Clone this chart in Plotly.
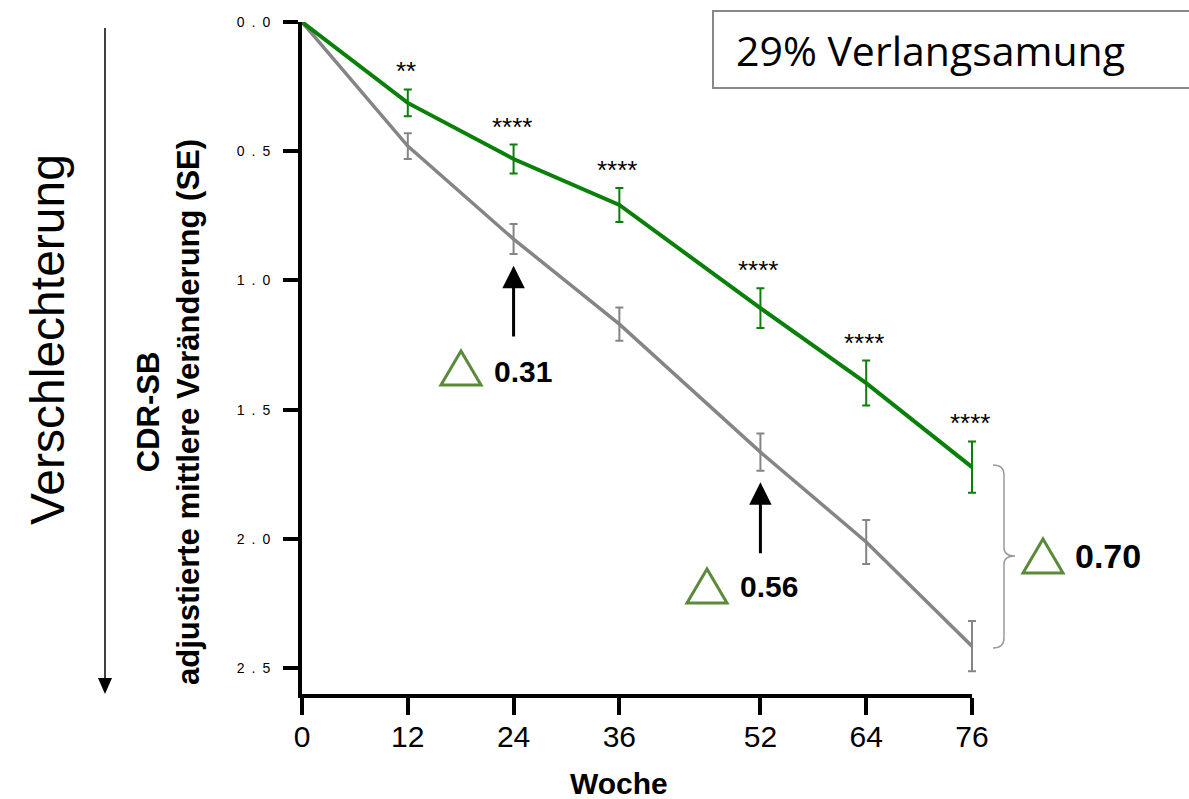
import plotly.graph_objects as go

# ---- data ----
weeks = [0, 12, 24, 36, 52, 64, 76]
treat_mean = [0.0, 0.313, 0.530, 0.708, 1.107, 1.397, 1.722]
treat_se = [0.0, 0.052, 0.056, 0.066, 0.077, 0.087, 0.099]
placebo_mean = [0.0, 0.480, 0.840, 1.169, 1.664, 2.012, 2.415]
placebo_se = [0.0, 0.050, 0.058, 0.064, 0.072, 0.085, 0.097]
stars = ["", "**", "****", "****", "****", "****", "****"]
y_tickvals = [0.0, 0.5, 1.0, 1.5, 2.0, 2.5]
y_ticktext = ["0\u2002.\u20020", "0\u2002.\u20025", "1\u2002.\u20020",
              "1\u2002.\u20025", "2\u2002.\u20020", "2\u2002.\u20025"]
diff_weeks = [24, 52]
diff_labels = ["0.31", "0.56"]
total_diff_label = "0.70"
box_text = "29% Verlangsamung"

GREEN = "#0a7f0a"
GRAY = "#858585"
TRI = "#5a8a3a"

W, H = 1189, 799
L, R, T, B = 302, 217, 22, 105
R2 = 180                      # wider drawing area so end caps are not clipped
PW, PH = W - L - R, H - T - B
PW2 = W - L - R2
XMAX = 76
XMAX2 = XMAX * PW2 / PW


def px(x):
    return (x - L) / PW2


def py(y):
    return (H - B - y) / PH


fig = go.Figure()

for mean, se, col, lw in [(placebo_mean, placebo_se, GRAY, 3.5),
                          (treat_mean, treat_se, GREEN, 4)]:
    fig.add_trace(go.Scatter(x=weeks, y=mean, mode="lines", xaxis="x2", yaxis="y",
                             line=dict(color=col, width=lw),
                             cliponaxis=False, hoverinfo="skip"))
    fig.add_trace(go.Scatter(x=weeks[1:], y=mean[1:], mode="markers", xaxis="x2", yaxis="y",
                             marker=dict(size=1, color=col, opacity=0),
                             error_y=dict(type="data", array=se[1:], color=col,
                                          thickness=2, width=4, visible=True),
                             cliponaxis=False, hoverinfo="skip"))

annotations = []
# significance stars
for w, m, s, st in zip(weeks, treat_mean, treat_se, stars):
    if st:
        annotations.append(dict(x=w, y=m - s, xref="x", yref="y", text=st,
                                showarrow=False, yshift=18, xshift=-2,
                                xanchor="center", yanchor="middle",
                                font=dict(family="Liberation Sans, Arial", size=26, color="black")))

# arrows at week 24 and 52
for w in diff_weeks:
    i = weeks.index(w)
    tip = placebo_mean[i] + placebo_se[i] + 0.045
    tail = tip + 0.28
    annotations.append(dict(x=w, y=tip, ax=w, ay=tail, xref="x", yref="y",
                            axref="x", ayref="y", text="", showarrow=True,
                            arrowhead=2, arrowsize=1.5, arrowwidth=3, arrowcolor="black"))

# difference labels
label_pos = [(492, 371, 30), (738, 586, 30), (1073, 556, 34)]
for (lx, ly, fs), txt in zip(label_pos, diff_labels + [total_diff_label]):
    annotations.append(dict(x=px(lx), y=py(ly), xref="paper", yref="paper",
                            text="<b>%s</b>" % txt, showarrow=False,
                            xanchor="left", yanchor="middle",
                            font=dict(family="Liberation Sans, Arial", size=fs, color="black")))

# axis titles
annotations.append(dict(x=px(619), y=py(783), xref="paper", yref="paper",
                        text="<b>Woche</b>", showarrow=False,
                        xanchor="center", yanchor="middle",
                        font=dict(family="Liberation Sans, Arial", size=30, color="black")))
annotations.append(dict(x=px(47), y=py(340), xref="paper", yref="paper",
                        text="Verschlechterung", textangle=-90, showarrow=False,
                        xanchor="center", yanchor="middle",
                        font=dict(family="Liberation Sans, Arial", size=48, color="black")))
annotations.append(dict(x=px(169), y=py(412), xref="paper", yref="paper",
                        text="<b>CDR-SB</b><br><b>adjustierte mittlere Veränderung (SE)</b>",
                        textangle=-90, showarrow=False,
                        xanchor="center", yanchor="middle",
                        font=dict(family="Liberation Sans, Arial", size=31, color="black")))
# box text
annotations.append(dict(x=px(734), y=py(50), xref="paper", yref="paper",
                        text=box_text, showarrow=False, xanchor="left", yanchor="middle",
                        font=dict(family="Open Sans", size=41, color="black")))

shapes = []
# direction arrow on the left
shapes.append(dict(type="line", xref="paper", yref="paper",
                   x0=px(105), x1=px(105), y0=py(28), y1=py(680),
                   line=dict(color="black", width=1.5)))
shapes.append(dict(type="path", xref="paper", yref="paper",
                   path="M %f,%f L %f,%f L %f,%f Z" % (px(98), py(678), px(112), py(678), px(105), py(694)),
                   fillcolor="black", line=dict(color="black", width=0)))

# triangles
for (x0, y0) in [(441, 385), (687, 603), (1023, 573)]:
    shapes.append(dict(type="path", xref="paper", yref="paper",
                       path="M %f,%f L %f,%f L %f,%f Z" % (px(x0), py(y0), px(x0 + 40), py(y0),
                                                          px(x0 + 20), py(y0 - 34)),
                       line=dict(color=TRI, width=3)))

# bracket
pts = ("M {a},{b} Q {c},{b} {c},{d} L {c},{e} Q {c},{f} {g},{f} Q {c},{f} {c},{h} "
       "L {c},{i} Q {c},{j} {a},{j}").format(
    a=px(993), b=py(465), c=px(1004), d=py(475), e=py(548), f=py(556), g=px(1015),
    h=py(564), i=py(638), j=py(648))
shapes.append(dict(type="path", xref="paper", yref="paper", path=pts,
                   line=dict(color="#9a9a9a", width=1.5)))

# text box
shapes.append(dict(type="rect", xref="paper", yref="paper",
                   x0=px(713), x1=px(1195), y0=py(88), y1=py(11),
                   line=dict(color="#888888", width=2), fillcolor="rgba(0,0,0,0)"))

fig.update_layout(
    width=W, height=H,
    margin=dict(l=L, r=R2, t=T, b=B, autoexpand=False),
    paper_bgcolor="white", plot_bgcolor="white",
    showlegend=False,
    annotations=annotations, shapes=shapes,
    xaxis=dict(domain=[0, PW / PW2], range=[0, XMAX], tickvals=weeks,
               ticktext=[str(w) for w in weeks], anchor="y",
               showgrid=False, zeroline=False, showline=True, linecolor="black", linewidth=4,
               ticks="outside", ticklen=17, tickwidth=4, tickcolor="black",
               ticklabelstandoff=-4,
               tickfont=dict(family="Liberation Sans, Arial", size=30, color="black")),
    xaxis2=dict(domain=[0, 1], range=[0, XMAX2], anchor="y", visible=False,
                showgrid=False, zeroline=False),
    yaxis=dict(range=[2.6, 0], tickvals=y_tickvals, ticktext=y_ticktext, anchor="x",
               showgrid=False, zeroline=False, showline=True, linecolor="black", linewidth=4,
               ticks="outside", ticklen=15, tickwidth=4, tickcolor="black",
               ticklabelstandoff=10,
               tickfont=dict(family="Liberation Sans, Arial", size=14, color="black")),
)

fig.write_html("out.html", config={"displayModeBar": False},
               post_script="document.body.style.margin='0px';")
